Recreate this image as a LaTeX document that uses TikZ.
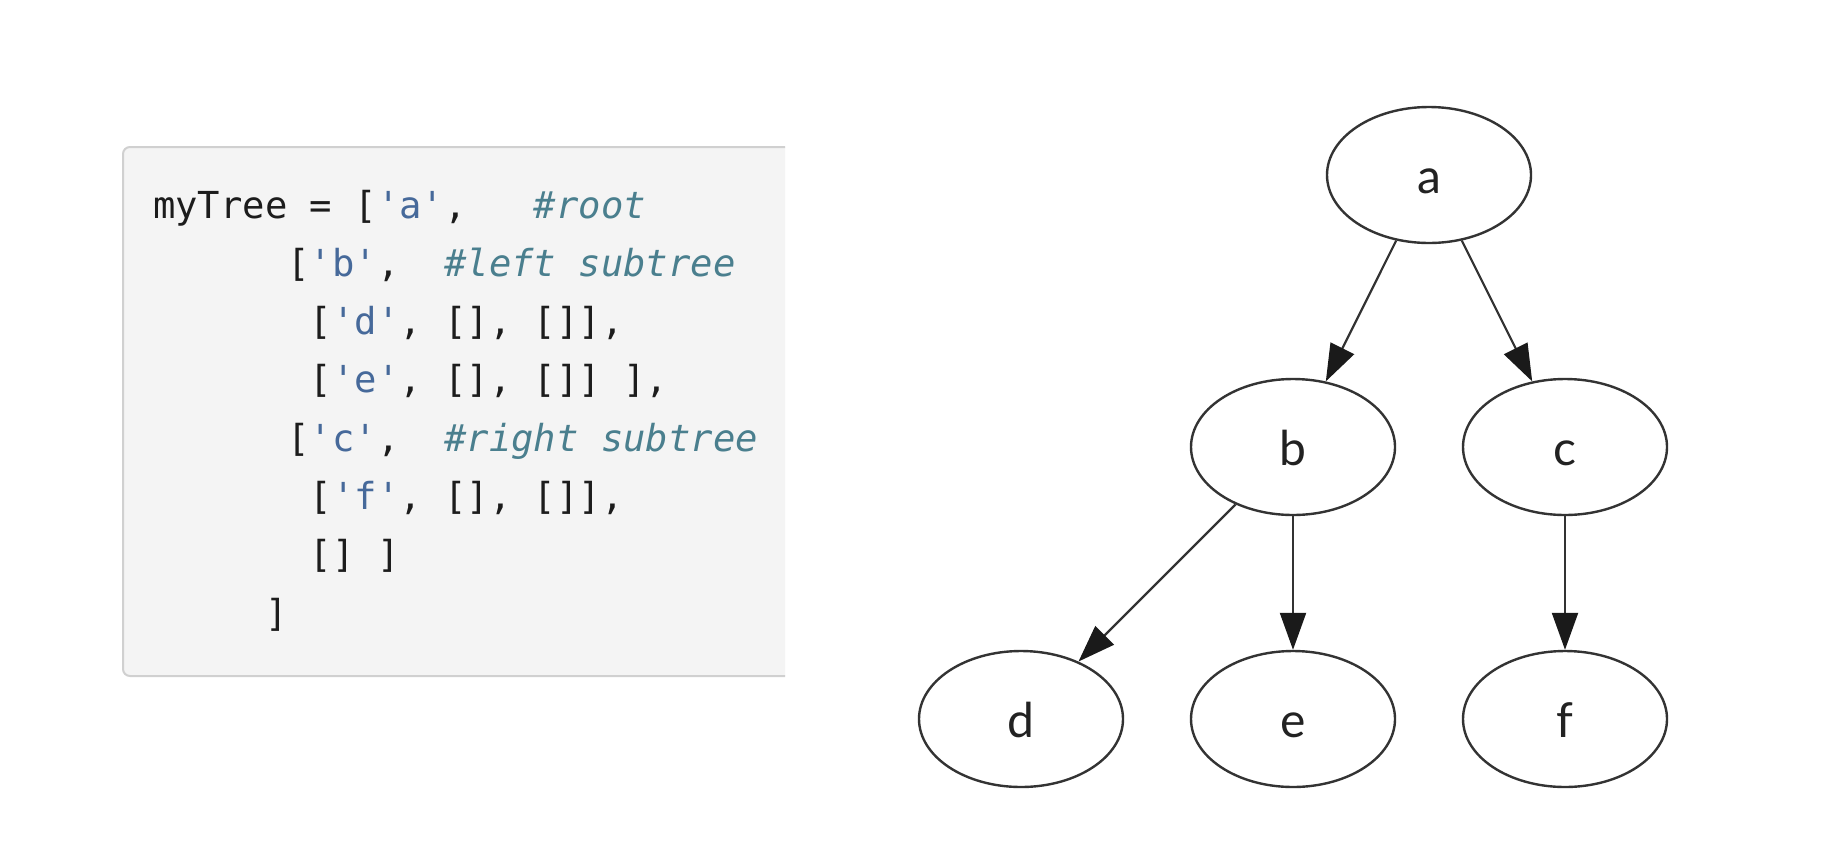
\documentclass[tikz,border=0pt]{standalone}
\usepackage{fontspec}
\usetikzlibrary{arrows.meta,shapes.geometric}
\newfontfamily\codefont{DejaVu Sans Mono}
\newfontfamily\labelfont{Lato}
\definecolor{codebg}{HTML}{F4F4F4}
\definecolor{codeborder}{HTML}{D0D0D0}
\definecolor{codetext}{HTML}{1C1C1C}
\definecolor{codestr}{HTML}{46699A}
\definecolor{codecmt}{HTML}{4A7F8E}
\definecolor{graphline}{HTML}{333333}
\definecolor{graphtip}{HTML}{1A1A1A}
\definecolor{graphtext}{HTML}{222222}
\newcommand{\qt}{\textquotesingle}
\newcommand{\str}[1]{\textcolor{codestr}{\qt#1\qt}}
\newcommand{\cmt}[1]{\textcolor{codecmt}{\itshape\##1}}

\begin{document}
\begin{tikzpicture}[x=1pt,y=-1pt,
  codeline/.style={anchor=base west, inner sep=0pt, text=codetext,
    font=\codefont\fontsize{37.2}{45}\selectfont},
  treenode/.style={ellipse, draw=graphline, line width=2.4pt,
    minimum width=204pt, minimum height=136pt, inner sep=0pt,
    text=graphtext, font=\labelfont\fontsize{48}{58}\selectfont,
    text height=36pt, text depth=0pt},
  treeedge/.style={draw=graphline, line width=2.2pt,
    -{Triangle[length=37pt,width=26pt,color=graphtip]}}]

  % page frame
  \useasboundingbox[fill=white] (0,0) rectangle (1828,860);

  % code listing panel, open on its right side
  \path[fill=codebg, draw=codeborder, line width=2pt, rounded corners=7pt]
    (785,147) -- (123,147) -- (123,676) -- (785,676);

  % listing text
  \node[codeline] (code1) at (153,218.0) {myTree~=~[\str{a},~~~\cmt{root}};
  \node[codeline] (code2) at (153,276.3) {~~~~~~[\str{b},~~\cmt{left~subtree}};
  \node[codeline] (code3) at (153,334.6) {~~~~~~~[\str{d},~[],~[]],};
  \node[codeline] (code4) at (153,392.9) {~~~~~~~[\str{e},~[],~[]]~],};
  \node[codeline] (code5) at (153,451.2) {~~~~~~[\str{c},~~\cmt{right~subtree}};
  \node[codeline] (code6) at (153,509.5) {~~~~~~~[\str{f},~[],~[]],};
  \node[codeline] (code7) at (153,567.8) {~~~~~~~[]~]};
  \node[codeline] (code8) at (153,626.1) {~~~~~]};

  % binary tree
  \node[treenode] (a) at (1429,175) {a};
  \node[treenode] (b) at (1293,447) {b};
  \node[treenode] (c) at (1565,447) {c};
  \node[treenode] (d) at (1021,719) {d};
  \node[treenode] (e) at (1293,719) {e};
  \node[treenode] (f) at (1565,719) {f};

  \draw[treeedge] (a) -- (b);
  \draw[treeedge] (a) -- (c);
  \draw[treeedge] (b) -- (d);
  \draw[treeedge] (b) -- (e);
  \draw[treeedge] (c) -- (f);
\end{tikzpicture}
\end{document}
